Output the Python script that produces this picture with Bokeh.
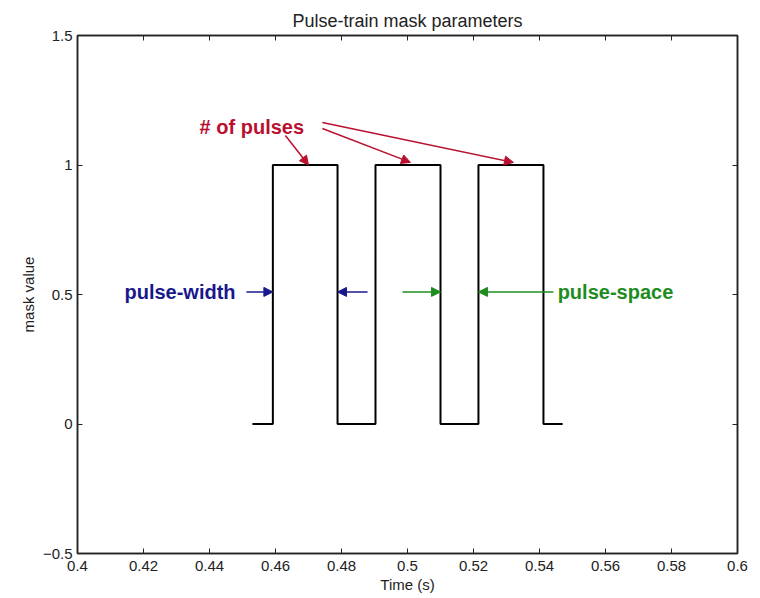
from bokeh.plotting import figure
from bokeh.models import (Range1d, LinearAxis, FixedTicker, Arrow, NormalHead, Label)
from bokeh.embed import file_html
from bokeh.resources import INLINE

# ---- data ----
x_ticks = [0.4, 0.42, 0.44, 0.46, 0.48, 0.5, 0.52, 0.54, 0.56, 0.58, 0.6]
y_ticks = [-0.5, 0, 0.5, 1, 1.5]
t_start = 0.4530
t_end = 0.5470
pulse_rise = [0.4592, 0.4903, 0.5215]
pulse_fall = [0.4788, 0.5100, 0.5412]
low_value = 0.0
high_value = 1.0

# annotations: (x_start, y_start, x_end, y_end)
pulse_arrows = [(0.4630, 1.114, 0.4700, 1.0),
                (0.4742, 1.141, 0.5009, 1.01),
                (0.4742, 1.164, 0.5321, 1.01)]
width_arrows = [(0.4512, 0.51, 0.4592, 0.51),
                (0.4879, 0.51, 0.4788, 0.51)]
space_arrows = [(0.4985, 0.51, 0.5100, 0.51),
                (0.5442, 0.51, 0.5215, 0.51)]

# build step-shaped mask
xs = [t_start]
ys = [low_value]
for r, f in zip(pulse_rise, pulse_fall):
    xs += [r, r, f, f]
    ys += [low_value, high_value, high_value, low_value]
xs.append(t_end)
ys.append(low_value)

FONT = "Liberation Sans"
RED = "#b8102e"
BLUE = "#18188c"
GREEN = "#1e8c1e"

p = figure(width=752, height=598, output_backend="svg", toolbar_location=None,
           x_range=Range1d(0.4, 0.6), y_range=Range1d(-0.5, 1.5),
           min_border_left=77, min_border_right=15, min_border_top=35,
           min_border_bottom=45, x_axis_location=None, y_axis_location=None)
p.grid.visible = False
p.outline_line_color = "#222222"
p.outline_line_width = 1.5
p.background_fill_color = "white"
p.border_fill_color = "white"

p.title.text = "Pulse-train mask parameters"
p.title.align = "center"
p.title.text_font = FONT
p.title.text_font_size = "18px"
p.title.text_font_style = "normal"
p.title.text_color = "#222222"
p.title.standoff = 9

def make_axis(ticks, show_labels, label=None):
    ax = LinearAxis(ticker=FixedTicker(ticks=ticks))
    ax.major_tick_in = 5
    ax.major_tick_out = 0
    ax.minor_tick_in = 0
    ax.minor_tick_out = 0
    ax.axis_line_color = "#222222"
    ax.axis_line_width = 1.5
    ax.major_tick_line_color = "#222222"
    ax.major_label_text_font = FONT
    ax.major_label_text_font_size = "15px"
    ax.major_label_text_color = "#222222"
    if not show_labels:
        ax.major_label_text_font_size = "0px"
        ax.major_label_text_alpha = 0
    if label:
        ax.axis_label = label
        ax.axis_label_text_font = FONT
        ax.axis_label_text_font_size = "15px"
        ax.axis_label_text_font_style = "normal"
        ax.axis_label_text_color = "#222222"
    return ax

xb = make_axis(x_ticks, True, "Time (s)")
xb.major_label_overrides = {0.4: "0.4", 0.5: "0.5", 0.6: "0.6"}
xb.major_label_standoff = 7
xb.axis_label_standoff = 2
yl = make_axis(y_ticks, True, "mask value")
yl.major_label_overrides = {0: "0", 1: "1"}
yl.major_label_standoff = 5
yl.axis_label_standoff = 3
xt = make_axis(x_ticks, False)
yr = make_axis(y_ticks, False)
p.add_layout(xb, "below")
p.add_layout(yl, "left")
p.add_layout(xt, "above")
p.add_layout(yr, "right")

p.line(xs, ys, line_color="black", line_width=2)

def add_arrows(arrs, color):
    for x0, y0, x1, y1 in arrs:
        p.add_layout(Arrow(x_start=x0, y_start=y0, x_end=x1, y_end=y1,
                           line_color=color, line_width=1.5,
                           end=NormalHead(size=9, fill_color=color, line_color=color)))

add_arrows(pulse_arrows, RED)
add_arrows(width_arrows, BLUE)
add_arrows(space_arrows, GREEN)

def add_label(x, y, text, color, align):
    p.add_layout(Label(x=x, y=y, text=text, text_color=color, text_font=FONT,
                       text_font_size="20px", text_font_style="bold",
                       text_align=align, text_baseline="middle"))

add_label(0.4370, 1.145, "# of pulses", RED, "left")
add_label(0.4479, 0.51, "pulse-width", BLUE, "right")
add_label(0.5455, 0.51, "pulse-space", GREEN, "left")

open("out.html", "w").write(file_html(p, INLINE))
